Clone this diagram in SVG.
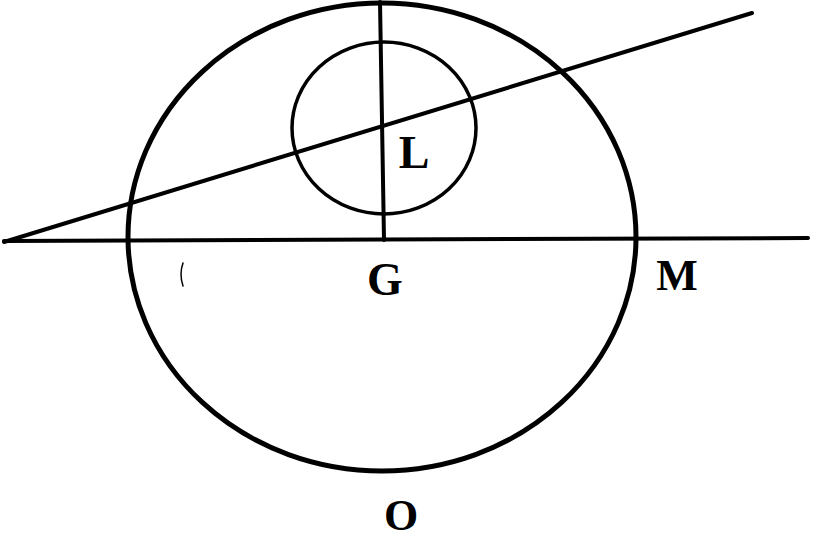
<svg xmlns="http://www.w3.org/2000/svg" width="813" height="539" viewBox="0 0 813 539">
<style>
.ln{fill:none;stroke:#000;stroke-linecap:round}
.lbl{font-family:"Liberation Serif","Times New Roman",serif;font-weight:bold;fill:#000;text-anchor:middle}
</style>
<rect width="813" height="539" fill="#fff"/>
<g id="circles">
<ellipse id="big-circle" class="ln" cx="382" cy="237" rx="254" ry="234" stroke-width="5"/>
<ellipse id="small-circle" class="ln" cx="384" cy="128" rx="92" ry="86" stroke-width="3.5"/>
</g>
<g id="connectors">
<line class="ln" x1="4" y1="241" x2="808" y2="238" stroke-width="4"/>
<line class="ln" x1="4" y1="242" x2="752" y2="13" stroke-width="4"/>
<line class="ln" x1="380" y1="2" x2="384" y2="240" stroke-width="4"/>
<path class="ln" d="M183,263 Q179,274 183,286" stroke-width="1.5"/>
</g>
<g id="labels">
<text class="lbl" x="414" y="168" font-size="46">L</text>
<text class="lbl" x="385" y="295" font-size="46">G</text>
<text class="lbl" x="677" y="290" font-size="44">M</text>
<text class="lbl" x="401" y="530" font-size="44">O</text>
</g>
</svg>
